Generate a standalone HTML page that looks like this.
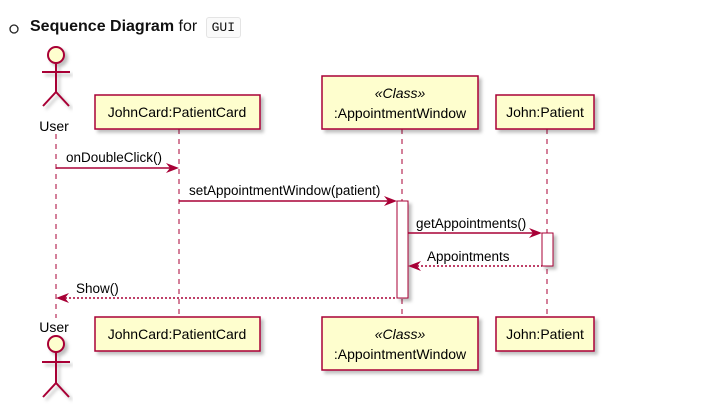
<!DOCTYPE html>
<html><head><style>
body{margin:0;width:723px;height:406px;background:#fff;overflow:hidden;font-family:"Liberation Sans",sans-serif}
.h{position:absolute;left:30px;top:17px;font-size:16px;color:#111}
.code{display:inline-block;font-family:"Liberation Mono",monospace;font-size:13px;border:1px solid #e4e4e4;border-radius:3px;padding:2px 5px;margin-left:4px;background:#fafafa}
</style></head><body>
<svg width="12" height="12" style="position:absolute;left:8px;top:23px"><circle cx="6" cy="6" r="4" fill="none" stroke="#222" stroke-width="1.3"/></svg>
<div class="h"><b>Sequence Diagram</b> for <span class="code">GUI</span></div>
<svg width="723" height="406" style="position:absolute;left:0;top:0" font-family="Liberation Sans, sans-serif">
<defs><filter id="s"><feDropShadow dx="3" dy="3" stdDeviation="1.5" flood-color="#000" flood-opacity="0.25"/></filter></defs>
<g stroke="#A80036" stroke-width="1" stroke-dasharray="5,5">
<line x1="56" y1="134" x2="56" y2="318"/><line x1="179" y1="129" x2="179" y2="317"/>
<line x1="402" y1="129" x2="402" y2="317"/><line x1="547" y1="129" x2="547" y2="317"/>
</g>
<g fill="#FEFECE" stroke="#A80036" stroke-width="1.5" filter="url(#s)">
<rect x="95" y="95" width="165" height="34"/><rect x="322" y="76" width="156" height="53"/><rect x="496" y="95" width="98" height="34"/>
<rect x="95" y="317" width="165" height="34"/><rect x="322" y="317" width="156" height="53"/><rect x="496" y="317" width="98" height="34"/>
</g>
<g fill="#fff" stroke="#A80036" stroke-width="1" filter="url(#s)">
<rect x="397" y="201" width="11" height="97"/><rect x="542" y="233" width="11" height="33"/>
</g>
<g font-size="14" fill="#000" text-anchor="middle">
<text x="177" y="117">JohnCard:PatientCard</text><text x="400" y="98" font-style="italic">«Class»</text><text x="400" y="118">:AppointmentWindow</text><text x="545" y="117">John:Patient</text>
<text x="177" y="339">JohnCard:PatientCard</text><text x="400" y="339" font-style="italic">«Class»</text><text x="400" y="359">:AppointmentWindow</text><text x="545" y="339">John:Patient</text>
<text x="54" y="131">User</text><text x="54" y="332">User</text>
</g>
<g stroke="#A80036" stroke-width="2" fill="#FEFECE" filter="url(#s)">
<circle cx="56" cy="55" r="8"/><path d="M56 63V92M42 72H70M43 106L56 92L69 106" fill="none"/>
<circle cx="56" cy="344" r="8"/><path d="M56 352V383M42 362H70M43 397L56 383L69 397" fill="none"/>
</g>
<g stroke="#A80036" stroke-width="1.5" fill="none">
<line x1="56" y1="168" x2="176" y2="168"/><line x1="179" y1="201" x2="394" y2="201"/><line x1="408" y1="233" x2="539" y2="233"/>
<line x1="413" y1="266" x2="542" y2="266" stroke-dasharray="2,2"/><line x1="61" y1="298" x2="397" y2="298" stroke-dasharray="2,2"/>
</g>
<g fill="#A80036">
<path d="M179 168L166 163L170 168L166 173Z"/><path d="M397 201L384 196L388 201L384 206Z"/><path d="M542 233L529 228L533 233L529 238Z"/>
<path d="M408 266L421 261L417 266L421 271Z"/><path d="M56 298L69 293L65 298L69 303Z"/>
</g>
<g font-size="13.5" fill="#000">
<text x="66" y="162">onDoubleClick()</text><text x="189" y="195">setAppointmentWindow(patient)</text>
<text x="416" y="228">getAppointments()</text><text x="427" y="261">Appointments</text><text x="76" y="293">Show()</text>
</g>
</svg>
</body></html>
